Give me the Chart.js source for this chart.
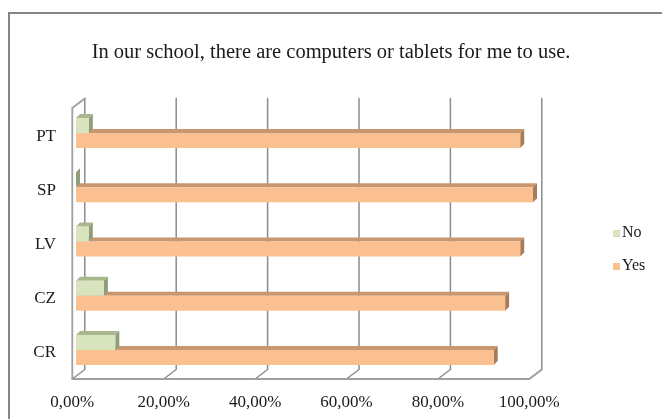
<!DOCTYPE html>
<html>
<head>
<meta charset="utf-8">
<script src="https://cdn.jsdelivr.net/npm/chart.js@4"></script>
<style>
  html, body { margin: 0; padding: 0; background: #fff; }
  #wrap { position: relative; width: 662px; height: 419px; }
</style>
</head>
<body>
<div id="wrap"><canvas id="chart" width="662" height="419"></canvas></div>
<script>
const TITLE = 'In our school, there are computers or tablets for me to use.';
const COUNTRIES = ['PT', 'SP', 'LV', 'CZ', 'CR'];
const NO_VALUES = [2.8, 0, 2.8, 6.1, 8.6];
const YES_VALUES = [97.2, 100, 97.2, 93.9, 91.4];
const X_MIN = 0;
const X_MAX = 100;
const X_STEP = 20;

const FONT = '"Liberation Serif", "Times New Roman", serif';
const TEXT = '#1a1a1a';

// 3d look, roughly what Excel does
const WALL_DX = 12.5, WALL_DY = 9.5;
const FRONT_SHIFT = -3.7;
const BAR_DX = 4, BAR_DY = 4;
const TOP_COLORS = ['#a9b78f', '#c8976f'];
const SIDE_COLORS = ['#8f9d78', '#a97c58'];

const fmtPct = v => v.toFixed(2).replace('.', ',') + '%';

const frame3d = {
  id: 'frame3d',
  beforeDraw(chart) {
    const ctx = chart.ctx;
    ctx.save();
    ctx.strokeStyle = '#858585';
    ctx.lineWidth = 2;
    ctx.beginPath();
    ctx.moveTo(9, chart.height + 5);
    ctx.lineTo(9, 13);
    ctx.lineTo(chart.width + 5, 13);
    ctx.stroke();
    ctx.restore();
  },
  beforeDatasetsDraw(chart) {
    const { ctx, chartArea: a, scales: { x } } = chart;
    const top = a.top + 2, bottom = a.bottom + 2;
    const f = v => x.getPixelForValue(v) + FRONT_SHIFT;
    ctx.save();
    ctx.lineCap = 'round';

    // back gridlines + floor stubs
    ctx.strokeStyle = '#8c8c8c';
    ctx.lineWidth = 1.5;
    x.ticks.forEach(t => {
      const px = f(t.value);
      ctx.beginPath();
      ctx.moveTo(px + WALL_DX, top - WALL_DY);
      ctx.lineTo(px + WALL_DX, bottom - WALL_DY);
      ctx.lineTo(px, bottom);
      ctx.stroke();
    });

    // left wall and floor edges
    ctx.strokeStyle = '#a0a0a0';
    ctx.lineWidth = 1.8;
    ctx.beginPath();
    ctx.moveTo(f(X_MIN) + WALL_DX, top - WALL_DY);
    ctx.lineTo(f(X_MIN), top);
    ctx.lineTo(f(X_MIN), bottom);
    ctx.lineTo(f(X_MAX), bottom);
    ctx.lineTo(f(X_MAX) + WALL_DX, bottom - WALL_DY);
    ctx.stroke();

    // bar tops and sides, yes first so "no" overlaps it
    [1, 0].forEach(di => {
      const meta = chart.getDatasetMeta(di);
      meta.data.forEach(el => {
        const p = el.getProps(['x', 'y', 'base', 'height'], true);
        const t = p.y - p.height / 2, b = p.y + p.height / 2;
        const end = Math.max(p.x, p.base), start = Math.min(p.x, p.base);
        ctx.fillStyle = TOP_COLORS[di];
        ctx.beginPath();
        ctx.moveTo(start, t);
        ctx.lineTo(start + BAR_DX, t - BAR_DY);
        ctx.lineTo(end + BAR_DX, t - BAR_DY);
        ctx.lineTo(end, t);
        ctx.closePath();
        ctx.fill();
        ctx.fillStyle = SIDE_COLORS[di];
        ctx.beginPath();
        ctx.moveTo(end, t);
        ctx.lineTo(end + BAR_DX, t - BAR_DY);
        ctx.lineTo(end + BAR_DX, b - BAR_DY);
        ctx.lineTo(end, b);
        ctx.closePath();
        ctx.fill();
      });
    });
    ctx.restore();
  }
};

const sideLegend = {
  id: 'sideLegend',
  afterDraw(chart) {
    const ctx = chart.ctx;
    ctx.save();
    ctx.font = '16px ' + FONT;
    ctx.textBaseline = 'middle';
    chart.data.datasets.forEach((ds, i) => {
      const y = 233 + i * 33;
      ctx.fillStyle = ds.backgroundColor;
      ctx.fillRect(613, y - 3, 7, 7);
      ctx.fillStyle = TEXT;
      ctx.fillText(ds.label, 622, y);
    });
    ctx.restore();
  }
};

new Chart(document.getElementById('chart'), {
  type: 'bar',
  data: {
    labels: COUNTRIES,
    datasets: [
      { label: 'No', data: NO_VALUES, backgroundColor: '#d7e4bd', yAxisID: 'y' },
      { label: 'Yes', data: YES_VALUES, backgroundColor: '#fac090', yAxisID: 'y' },
    ],
  },
  options: {
    indexAxis: 'y',
    responsive: false,
    animation: false,
    categoryPercentage: 0.553,
    barPercentage: 1,
    borderWidth: 0,
    layout: { padding: 0 },
    plugins: {
      legend: { display: false },
      tooltip: { enabled: false },
      title: {
        display: true,
        text: TITLE,
        color: TEXT,
        font: { family: FONT, size: 20.5, weight: 'normal' },
        padding: { top: 40, bottom: 41.4 },
      },
    },
    scales: {
      x: {
        min: X_MIN,
        max: X_MAX,
        grid: { display: false, drawTicks: false },
        border: { display: false },
        ticks: {
          stepSize: X_STEP,
          padding: 15,
          labelOffset: FRONT_SHIFT,
          color: TEXT,
          font: { family: FONT, size: 17 },
          callback: v => fmtPct(v),
        },
        afterFit: s => { s.height = 42; },
      },
      y: {
        grid: { display: false, drawTicks: false },
        border: { display: false },
        ticks: { padding: 20, labelOffset: 3, color: TEXT, font: { family: FONT, size: 17 } },
        afterFit: s => { s.width = 76; },
      },
      // empty axis on the right, only keeps room for the legend
      yRoom: {
        type: 'category',
        position: 'right',
        grid: { display: false, drawTicks: false },
        border: { display: false },
        ticks: { display: false },
        afterFit: s => { s.width = 129; },
      },
    },
  },
  plugins: [frame3d, sideLegend],
});
</script>
</body>
</html>
